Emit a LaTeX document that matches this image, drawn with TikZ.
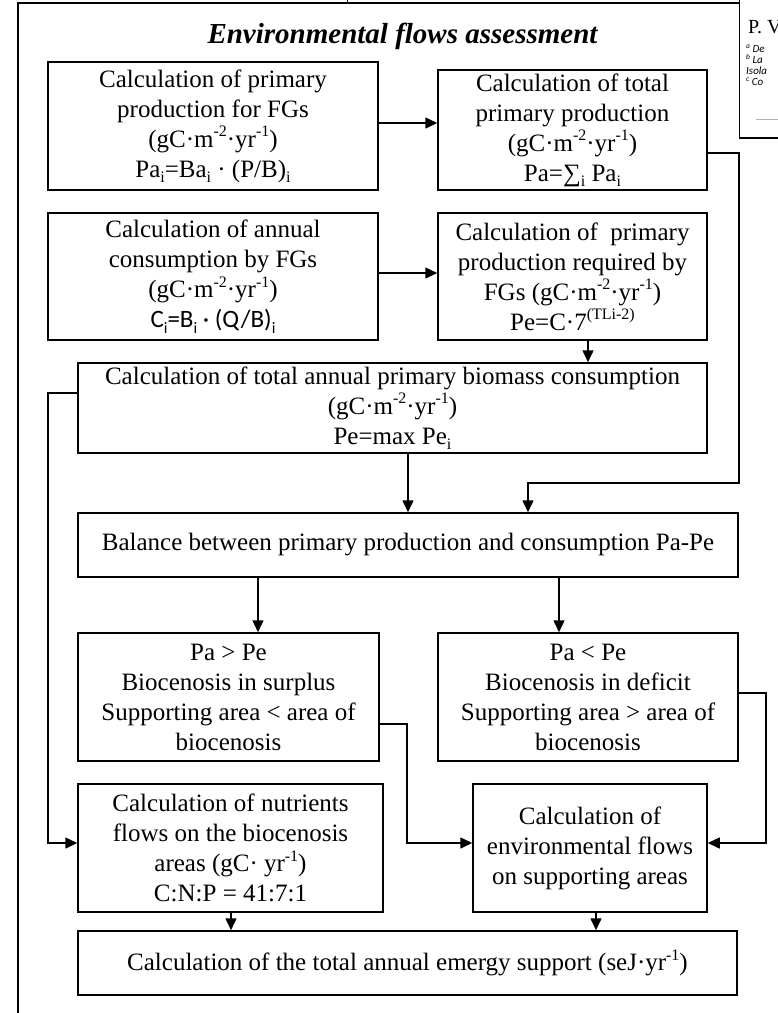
\documentclass[tikz,border=0pt]{standalone}
\usepackage{fontspec}
\setmainfont{Liberation Serif}
\newfontfamily\calibrifont{Carlito}
\usetikzlibrary{arrows.meta}
% raised / lowered small figures sized for the 25pt body text
\newcommand\sups[1]{\raisebox{0.42em}{\fontsize{16}{16}\selectfont #1}}
\newcommand\subs[1]{\raisebox{-0.22em}{\fontsize{16}{16}\selectfont #1}}
\newcommand\gcunit{(gC·m\sups{-2}·yr\sups{-1})}
\newcommand\smallsup[1]{\raisebox{0.35em}{\fontsize{7.5}{7.5}\selectfont #1}}
\begin{document}
\begin{tikzpicture}[x=1pt,y=-1pt,
  box/.style={draw, line width=1.5pt, inner sep=0pt, align=center,
    font=\fontsize{25}{30}\selectfont},
  link/.style={line width=1.5pt},
  arr/.style={link, -{Triangle[length=12pt,width=11pt]}}]
\useasboundingbox (0,0) rectangle (778,1013);
\fill[white] (0,0) rectangle (778,1013);

% outer frame of the assessment panel
\draw[link] (18,1013) -- (18,3) -- (739,3);
\draw[line width=1pt] (347,0) -- (347,3);

% header fragment in the upper right corner
\begin{scope}
  \clip (739,-1) rectangle (779,138);
  \draw[link] (739,-1) -- (739,138) -- (779,138);
  \node[anchor=base west, inner sep=0pt, font=\fontsize{20}{20}\selectfont] (ph) at (748,33) {P. V};
  \node[anchor=north west, inner sep=0pt, align=left,
    font=\calibrifont\itshape\fontsize{11}{10.8}\selectfont] (paff) at (746,45)
    {\smallsup{a} De\\ \smallsup{b} La\\ Isola\\ \smallsup{c} Co};
  \draw[gray!60, line width=0.8pt] (756,119) -- (779,119);
\end{scope}

% title
\node[anchor=base, inner sep=0pt, font=\fontsize{29}{33}\selectfont\bfseries\itshape] (title) at (402.5,43) {Environmental flows assessment};

% boxes
\node[box, minimum width=330pt, minimum height=128pt] (b1) at (213,126)
  {Calculation of primary\\ production for FGs\\ \gcunit\\ Pa\subs{i}=Ba\subs{i} · (P/B)\subs{i}};
\node[box, minimum width=269pt, minimum height=120pt] (b2) at (572.5,130)
  {Calculation of total\\ primary production\\ \gcunit\\ Pa=∑\subs{i} Pa\subs{i}};
\node[box, minimum width=330pt, minimum height=127pt] (b3) at (213,276.5)
  {Calculation of annual\\ consumption by FGs\\ \gcunit\\ {\calibrifont C\subs{i}=B\subs{i} · (Q/B)\subs{i}}};
\node[box, minimum width=269pt, minimum height=127pt] (b4) at (572.5,276.5)
  {Calculation of~ primary\\ production required by\\ FGs \gcunit\\ Pe=C·7\sups{(TLi-2)}};
\node[box, minimum width=629pt, minimum height=90pt] (b5) at (392.5,408)
  {Calculation of total annual primary biomass consumption\\ \gcunit\\ Pe=max Pe\subs{i}};
\node[box, minimum width=660pt, minimum height=64pt] (bal) at (408,545)
  {Balance between primary production and consumption Pa-Pe};
\node[box, minimum width=301pt, minimum height=128pt] (sur) at (228.5,697)
  {Pa > Pe\\ Biocenosis in surplus\\ Supporting area < area of\\ biocenosis};
\node[box, minimum width=300pt, minimum height=128pt] (def) at (588,697)
  {Pa < Pe\\ Biocenosis in deficit\\ Supporting area > area of\\ biocenosis};
\node[box, minimum width=305pt, minimum height=128pt] (nut) at (230.5,848)
  {Calculation of nutrients\\ flows on the biocenosis\\ areas (gC· yr\sups{-1})\\ C:N:P = 41:7:1};
\node[box, minimum width=234pt, minimum height=128pt] (env) at (590,848)
  {Calculation of\\ environmental flows\\ on supporting areas};
\node[box, minimum width=659pt, minimum height=64pt] (tot) at (407.5,963)
  {Calculation of the total annual emergy support (seJ·yr\sups{-1})};

% connectors
\coordinate (c12) at ([yshift=3pt]b1.east);
\draw[arr] (c12) -- (c12 -| b2.west);
\coordinate (c34) at ([yshift=3.5pt]b3.east);
\draw[arr] (c34) -- (c34 -| b4.west);
\coordinate (c45) at ([xshift=15.5pt]b4.south);
\draw[arr] (c45) -- (c45 |- b5.north);

\coordinate (c2a) at ([yshift=-23pt]b2.east);
\coordinate (c2b) at (739,153);
\coordinate (c2c) at (739,483);
\coordinate (c2d) at (528,483);
\draw[arr] (c2a) -- (c2b) -- (c2c) -- (c2d) -- (c2d |- bal.north);

\coordinate (c5b) at (408,453);
\draw[arr] (c5b) -- (c5b |- bal.north);

\coordinate (c5a) at ([yshift=15pt]b5.west);
\coordinate (c5l) at (48,393);
\coordinate (c5n) at (48,843);
\draw[arr] (c5a) -- (c5l) -- (c5n) -- (c5n -| nut.west);

\coordinate (cbl) at (258,577);
\draw[arr] (cbl) -- (cbl |- sur.north);
\coordinate (cbr) at (559,577);
\draw[arr] (cbr) -- (cbr |- def.north);

\coordinate (csa) at ([yshift=-27pt]sur.east);
\coordinate (csb) at (407,724);
\coordinate (csc) at (407,843);
\draw[arr] (csa) -- (csb) -- (csc) -- (csc -| env.west);

\coordinate (cda) at ([yshift=4pt]def.east);
\coordinate (cdb) at (766,693);
\coordinate (cdc) at (766,843);
\draw[arr] (cda) -- (cdb) -- (cdc) -- (cdc -| env.east);

\coordinate (cnt) at (231,912);
\draw[arr] (cnt) -- (cnt |- tot.north);
\coordinate (cet) at (596,912);
\draw[arr] (cet) -- (cet |- tot.north);
\end{tikzpicture}
\end{document}
